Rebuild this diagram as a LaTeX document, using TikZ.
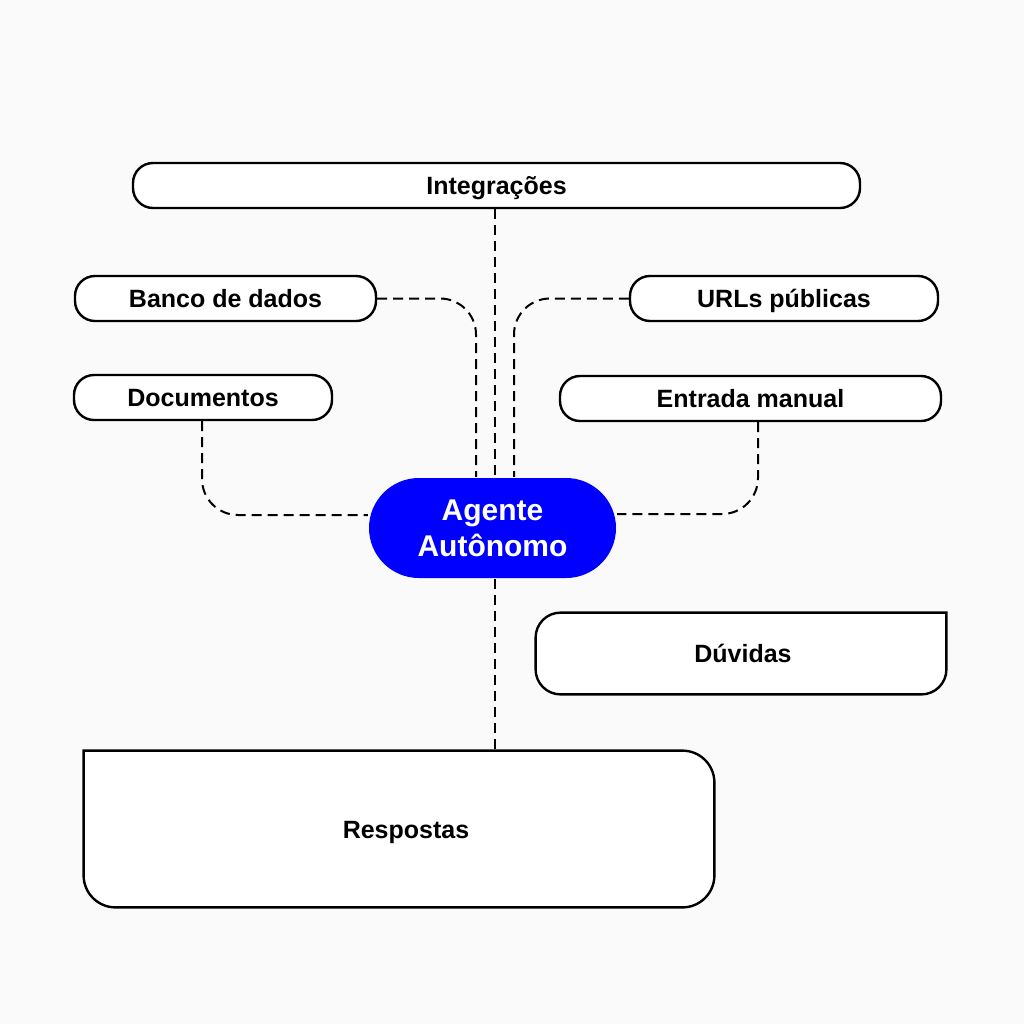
\documentclass[tikz,border=0pt]{standalone}
\usepackage{fontspec}
\setmainfont{Liberation Sans}
\usetikzlibrary{calc}
\definecolor{bg}{HTML}{FAFAFA}
\definecolor{agblue}{HTML}{0000FF}
\pgfdeclarelayer{bgl}
\pgfdeclarelayer{boxes}
\pgfsetlayers{bgl,boxes,main}
\begin{document}
\begin{tikzpicture}[x=0.5pt,y=-0.5pt,
  lbl/.style={font=\fontsize{12.5pt}{15pt}\selectfont\bfseries, text height=9pt, text depth=0pt},
  box/.style={lbl, draw=black, line width=1.2pt, fill=white, rounded corners=10pt, inner sep=0pt, minimum height=22.5pt},
  plainbox/.style={lbl, draw=none, fill=none, inner sep=0pt},
  outline/.style={draw=black, line width=1.2pt, fill=white, line cap=rect},
  conn/.style={draw=black, line width=1pt, dash pattern=on 5pt off 3pt, rounded corners=18pt}]
\begin{pgfonlayer}{bgl}
\fill[bg] (0,0) rectangle (1024,1024);
\end{pgfonlayer}
\useasboundingbox (0,0) rectangle (1024,1024);

\node[box, minimum width=363.5pt] (integ) at (496.5,185.5) {Integrações};
\node[box, minimum width=150.5pt] (banco) at (225.5,298.5) {Banco de dados};
\node[box, minimum width=154pt] (urls) at (784,298.5) {URLs públicas};
\node[box, minimum width=129pt] (docs) at (203,397.5) {Documentos};
\node[box, minimum width=190.5pt] (entrada) at (750.5,398.5) {Entrada manual};
\node[box, fill=agblue, draw=none, text=white, rounded corners=25pt,
      minimum width=123.5pt, minimum height=50pt, align=center,
      text height=, text depth=,
      font=\fontsize{15pt}{18pt}\selectfont\bfseries] (agente) at (492.5,528) {Agente\\Autônomo};

\node[plainbox, minimum width=205pt, minimum height=40.5pt] (duv) at (741,653.5) {\hspace*{2pt}Dúvidas};
\node[plainbox, minimum width=315pt, minimum height=78pt] (resp) at (399,829) {\hspace*{7pt}Respostas};

\begin{pgfonlayer}{boxes}
\draw[outline, rounded corners=12.5pt] (duv.north east) -- (duv.south east) -- (duv.south west) -- (duv.north west) -- (duv.north east);
\draw[outline, rounded corners=16pt] (resp.north west) -- (resp.north east) -- (resp.south east) -- (resp.south west) -- (resp.north west);
\end{pgfonlayer}

\coordinate (ia) at ($(agente.north)+(1.25pt,0)$);
\coordinate (ib) at ($(agente.north)+(-8.25pt,0)$);
\coordinate (ic) at ($(agente.north)+(10.75pt,0)$);
\coordinate (as) at ($(agente.south)+(1.25pt,0)$);

\draw[conn] (integ.south -| ia) -- (ia);
\draw[conn] (banco.east) -| (ib);
\draw[conn] (urls.west) -| (ic);
\draw[conn] ($(docs.south)+(-0.5pt,0)$) |- ($(agente.west)+(0,6.5pt)$);
\draw[conn] ($(entrada.south)+(3.75pt,0)$) |- ($(agente.east)+(0,7pt)$);
\draw[conn] (as) -- (as |- resp.north);
\end{tikzpicture}
\end{document}
